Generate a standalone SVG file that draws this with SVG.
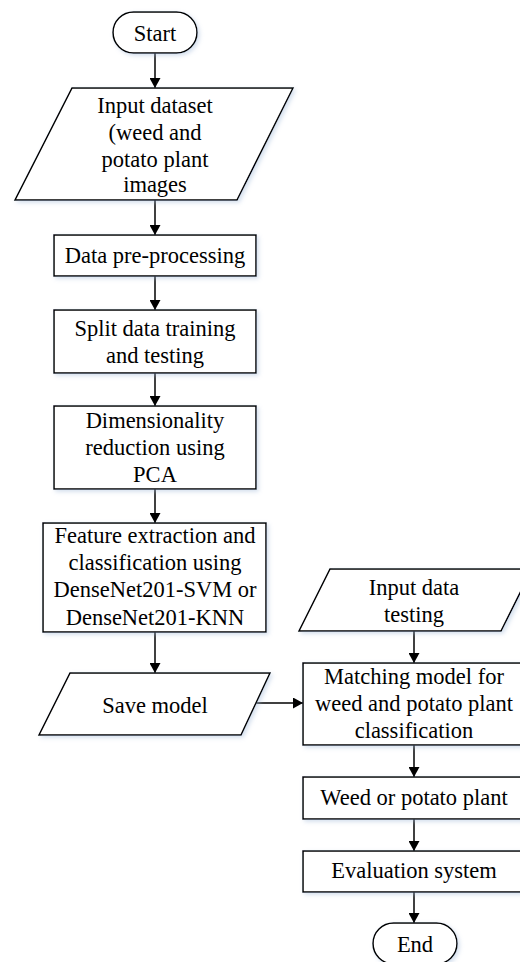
<svg xmlns="http://www.w3.org/2000/svg" width="520" height="962" viewBox="0 0 520 962">
<style>
.s{fill:#fff;stroke:#000;stroke-width:1.5;filter:url(#sh)}
.t{font-family:'Liberation Serif','Times New Roman','DejaVu Serif',serif;font-size:22.5px;fill:#000;text-anchor:middle}
.c{stroke:#000;stroke-width:1.5;fill:none;marker-end:url(#ah)}
</style>
<defs>
<marker id="ah" markerWidth="11" markerHeight="11" refX="10" refY="5.5" orient="auto" markerUnits="userSpaceOnUse">
<path d="M0,0 L10,5.5 L0,11 Z" fill="#000"/>
</marker>
<filter id="sh" x="-10%" y="-10%" width="130%" height="130%">
<feDropShadow dx="2" dy="2" stdDeviation="2" flood-color="#9fb8d8" flood-opacity="0.45"/>
</filter>
</defs>
<rect width="520" height="962" fill="#fff"/>
<g id="connectors">
<line class="c" x1="155" y1="53" x2="155" y2="88"/>
<line class="c" x1="155" y1="200" x2="155" y2="235"/>
<line class="c" x1="155" y1="276" x2="155" y2="310"/>
<line class="c" x1="155" y1="373" x2="155" y2="406"/>
<line class="c" x1="155" y1="489" x2="155" y2="523"/>
<line class="c" x1="155" y1="632" x2="155" y2="673"/>
<line class="c" x1="256" y1="703" x2="303" y2="703"/>
<line class="c" x1="414" y1="631" x2="414" y2="663"/>
<line class="c" x1="414" y1="745" x2="414" y2="777"/>
<line class="c" x1="414" y1="819" x2="414" y2="851"/>
<line class="c" x1="414" y1="892" x2="414" y2="923"/>
</g>
<g id="start">
<rect class="s" x="113" y="12" width="84" height="41" rx="20.5"/>
<text class="t" font-family="Liberation Serif, serif" x="155" y="41">Start</text>
</g>
<g id="input-dataset">
<polygon class="s" points="72,88 293,88 237,200 15,200"/>
<text class="t" font-family="Liberation Serif, serif" x="155" y="113">Input dataset</text>
<text class="t" font-family="Liberation Serif, serif" x="155" y="140">(weed and</text>
<text class="t" font-family="Liberation Serif, serif" x="155" y="167">potato plant</text>
<text class="t" font-family="Liberation Serif, serif" x="155" y="192">images</text>
</g>
<g id="preprocessing">
<rect class="s" x="54" y="235" width="202" height="41"/>
<text class="t" font-family="Liberation Serif, serif" x="155" y="263">Data pre-processing</text>
</g>
<g id="split">
<rect class="s" x="54" y="310" width="202" height="63"/>
<text class="t" font-family="Liberation Serif, serif" x="155" y="336">Split data training</text>
<text class="t" font-family="Liberation Serif, serif" x="155" y="363">and testing</text>
</g>
<g id="pca">
<rect class="s" x="54" y="406" width="202" height="83"/>
<text class="t" font-family="Liberation Serif, serif" x="155" y="428">Dimensionality</text>
<text class="t" font-family="Liberation Serif, serif" x="155" y="455">reduction using</text>
<text class="t" font-family="Liberation Serif, serif" x="155" y="482">PCA</text>
</g>
<g id="feature">
<rect class="s" x="43" y="523" width="223" height="109"/>
<text class="t" font-family="Liberation Serif, serif" x="155" y="543">Feature extraction and</text>
<text class="t" font-family="Liberation Serif, serif" x="155" y="570">classification using</text>
<text class="t" font-family="Liberation Serif, serif" x="155" y="597">DenseNet201-SVM or</text>
<text class="t" font-family="Liberation Serif, serif" x="155" y="625">DenseNet201-KNN</text>
</g>
<g id="save-model">
<polygon class="s" points="70,673 270,673 241,735 39,735"/>
<text class="t" font-family="Liberation Serif, serif" x="155" y="713">Save model</text>
</g>
<g id="input-testing">
<polygon class="s" points="330,569 532,569 501,631 299,631"/>
<text class="t" font-family="Liberation Serif, serif" x="414" y="595">Input data</text>
<text class="t" font-family="Liberation Serif, serif" x="414" y="622">testing</text>
</g>
<g id="matching">
<rect class="s" x="303" y="663" width="222" height="82"/>
<text class="t" font-family="Liberation Serif, serif" x="414" y="684">Matching model for</text>
<text class="t" font-family="Liberation Serif, serif" x="414" y="711">weed and potato plant</text>
<text class="t" font-family="Liberation Serif, serif" x="414" y="738">classification</text>
</g>
<g id="result">
<rect class="s" x="303" y="777" width="222" height="42"/>
<text class="t" font-family="Liberation Serif, serif" x="414" y="805">Weed or potato plant</text>
</g>
<g id="evaluation">
<rect class="s" x="303" y="851" width="222" height="41"/>
<text class="t" font-family="Liberation Serif, serif" x="414" y="878">Evaluation system</text>
</g>
<g id="end">
<rect class="s" x="373" y="923" width="84" height="41" rx="20.5"/>
<text class="t" font-family="Liberation Serif, serif" x="415" y="952">End</text>
</g>
</svg>
